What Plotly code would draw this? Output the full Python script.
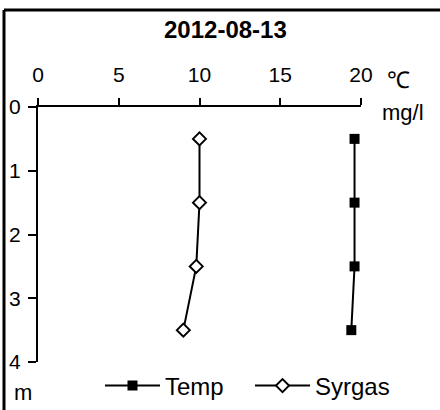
import plotly.graph_objects as go

depth = [0.5, 1.5, 2.5, 3.5]
temp = [19.6, 19.6, 19.6, 19.4]
syrgas = [10.0, 10.0, 9.8, 9.0]
x_ticks = [0, 5, 10, 15, 20]
y_ticks = [0, 1, 2, 3, 4]
title = "2012-08-13"

W, H = 440, 410
L, R, T, B = 38, 79, 107, 48
pw, ph = W - L - R, H - T - B

def px(x):
    return (x - L) / pw

def py(y):
    return (H - B - y) / ph

FONT = "Liberation Sans, Arial, sans-serif"

fig = go.Figure()
fig.add_trace(go.Scatter(
    x=temp, y=depth, name="Temp", mode="lines+markers",
    line=dict(color="black", width=2),
    marker=dict(symbol="square", size=10, color="black"),
))
fig.add_trace(go.Scatter(
    x=syrgas, y=depth, name="Syrgas", mode="lines+markers",
    line=dict(color="black", width=2),
    marker=dict(symbol="diamond", size=10, color="white",
                line=dict(color="black", width=2)),
))

def note(text, x, y, size=20):
    return dict(text=text, xref="paper", yref="paper", x=px(x), y=py(y),
                xanchor="center", yanchor="middle", showarrow=False,
                font=dict(size=size))

fig.update_layout(
    width=W, height=H,
    margin=dict(l=L, r=R, t=T, b=B, autoexpand=False),
    paper_bgcolor="white", plot_bgcolor="white",
    font=dict(family=FONT, color="black", size=20),
    showlegend=True,
    legend=dict(orientation="h", x=px(100), y=py(386), xanchor="left",
                yanchor="middle", font=dict(size=24), itemwidth=55,
                entrywidth=80, entrywidthmode="pixels",
                bgcolor="rgba(0,0,0,0)", traceorder="normal"),
    xaxis=dict(side="top", range=[0, 20], tickvals=x_ticks,
               showline=True, linecolor="black", linewidth=2,
               ticks="outside", ticklen=7, tickwidth=2, tickcolor="black",
               showgrid=False, zeroline=False, ticklabelstandoff=8,
               tickfont=dict(size=21), automargin=False),
    yaxis=dict(range=[4, 0], tickvals=y_ticks,
               showline=True, linecolor="black", linewidth=2,
               ticks="outside", ticklen=8, tickwidth=2, tickcolor="black",
               showgrid=False, zeroline=False, ticklabelstandoff=3,
               tickfont=dict(size=21), automargin=False),
    shapes=[
        dict(type="line", xref="paper", yref="paper",
             x0=px(4), x1=px(445), y0=py(10), y1=py(10),
             line=dict(color="black", width=3)),
        dict(type="line", xref="paper", yref="paper",
             x0=px(4), x1=px(4), y0=py(10), y1=py(415),
             line=dict(color="black", width=3)),
    ],
    annotations=[
        note("<b>" + title + "</b>", 226, 30, 24),
        note("℃", 398, 80, 23),
        note("mg/l", 403, 112, 22),
        note("m", 23, 392, 22),
    ],
)

fig.write_html("out.html",
               config={"displayModeBar": False},
               post_script="document.body.style.margin='0';"
                           "document.body.style.overflow='hidden';")
